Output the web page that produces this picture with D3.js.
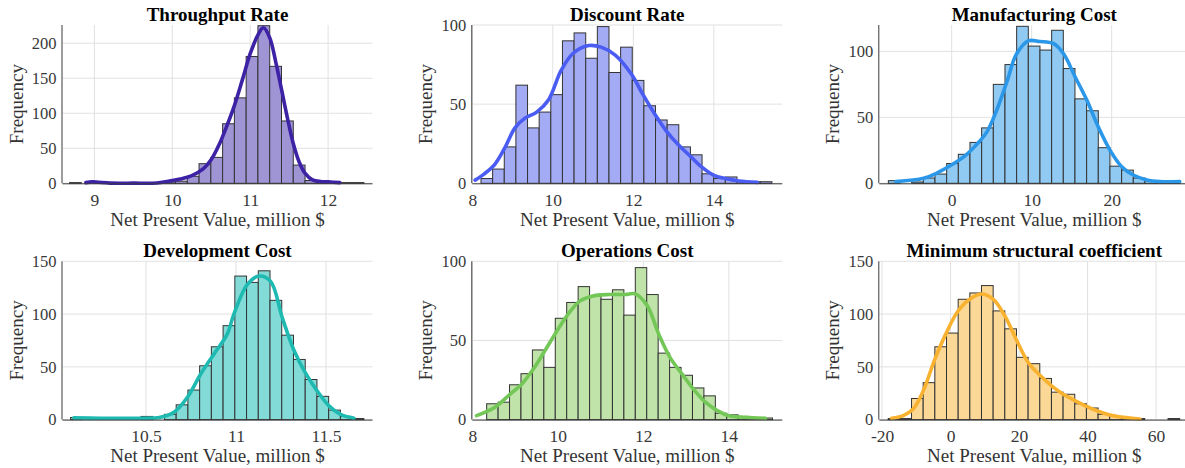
<!DOCTYPE html>
<html><head><meta charset="utf-8">
<script src="https://cdn.jsdelivr.net/npm/d3@7"></script>
<style>
body{margin:0;background:#fff;}
svg{display:block;}
text{font-family:"Liberation Serif","Times New Roman",serif;}
</style></head><body>
<svg id="chart" width="1185" height="468"></svg>
<script>
// ---------------- DATA ----------------
const panelTitles = ["Throughput Rate","Discount Rate","Manufacturing Cost","Development Cost","Operations Cost","Minimum structural coefficient"];
const xAxisLabel = "Net Present Value, million $";
const yAxisLabel = "Frequency";

// histogram bins: first edge, bin width, counts (25 bins each)
const binStarts = [8.68, 8.216, -7.92, 10.081, 8.336, -18.2];
const binWidths = [0.1512, 0.289, 1.458, 0.06516, 0.2674, 3.404];
const countsThroughput    = [1,0,0,0,0,0,0,0,2,3,10,28,37,85,122,181,225,167,89,26,4,1,0,1,1];
const countsDiscount      = [3,9,23,62,35,45,56,90,95,79,99,70,86,65,49,40,37,23,18,6,3,4,1,1,1];
const countsManufacturing = [2,0,1,4,7,15,22,31,42,75,90,119,104,101,116,87,64,55,27,13,10,4,2,2,2];
const countsDevelopment   = [2,0,0,0,0,0,3,0,5,14,28,51,69,89,136,130,141,113,80,57,38,22,9,3,1];
const countsOperations    = [10,11,22,29,44,33,64,74,84,78,76,82,66,96,79,42,33,28,20,15,4,3,2,1,1];
const countsStructural    = [1,1,20,35,69,82,114,120,127,103,86,59,53,39,26,24,15,11,5,3,1,1,0,0,1];

// density curves (scaled to counts)
const kdeXThroughput = [8.89,8.97,9.05,9.2,9.5,9.8,9.95,10.1,10.25,10.4,10.5,10.6,10.7,10.8,10.9,11.0,11.1,11.17,11.25,11.33,11.4,11.48,11.55,11.63,11.7,11.8,11.9,12.0,12.15];
const kdeYThroughput = [1,2,1.5,0.3,0.2,0.5,3,6,11,21,34,55,82,112,148,185,212,222,208,172,135,92,58,30,15,5,2.5,2,1];
const kdeXDiscount = [8.07,8.3,8.56,8.8,9.06,9.3,9.6,9.9,10.2,10.5,10.89,11.2,11.55,11.95,12.24,12.55,12.82,13.13,13.42,13.71,14.0,14.29,14.62,15.08];
const kdeYDiscount = [2,6,12,22,35,41,45,53,71,82,87,86,81,69,56,43,33,24,17,10,5,3,1.5,0.6];
const kdeXManufacturing = [-6.96,-3.5,-1.9,0,1.5,2.9,4.4,5.6,6.9,8.1,9.6,11.0,12.7,14.0,15.4,16.9,18.3,19.8,21.25,22.7,24.4,26.0,28.5];
const kdeYManufacturing = [1.3,3.8,7.6,14,20,28,39,55,77,98,108,107.5,106,98,81,63,43,25,12.6,6.3,2.5,1.3,1.3];
const kdeXDevelopment = [10.099,10.247,10.432,10.58,10.655,10.729,10.803,10.877,10.951,10.988,11.062,11.127,11.192,11.256,11.321,11.386,11.451,11.516,11.58,11.655];
const kdeYDevelopment = [1.6,1.3,1.3,2.2,7,21,43,62,81,100,128,136,131,97,66,44,27,13,5,1.3];
const kdeXOperations = [8.1,8.53,8.88,9.16,9.43,9.7,9.98,10.25,10.52,10.8,11.19,11.58,11.81,12.09,12.36,12.63,12.9,13.18,13.45,13.73,14.0,14.39,14.86];
const kdeYOperations = [2.5,7.8,16,22.5,32,43.6,56,67,75,78,79,79,79.4,72,54,39,29,19,11,5.7,2.5,1.5,0.8];
const kdeXStructural = [-17.2,-13.8,-10.9,-8.0,-4.6,-1.4,2.0,5.6,9.0,12.5,15.9,19.3,22.7,26.1,29.5,32.9,36.3,39.7,43.1,46.5,50.4,55.3];
const kdeYStructural = [1.3,3.8,10,27,57,81,102,114,119,114,98,75,54,42,32,24,18,12.6,7.9,4.4,2.2,0.6];

// axis limits and ticks
const xLimits = [[8.59,12.57],[8,15.7],[-9.05,29.7],[10.036,11.758],[8,15.25],[-20.8,69.7]];
const yLimits = [226,100,120,150,100,150];
const xTickValues = [[9,10,11,12],[8,10,12,14],[0,10,20],[10.5,11,11.5],[8,10,12,14],[-20,0,20,40,60]];
const yTickValues = [[0,50,100,150,200],[0,50,100],[0,50,100],[0,50,100,150],[0,50,100],[0,50,100,150]];

// ---------------- STYLE / LAYOUT ----------------
const barFills  = ["#9f95d5","#a3abf5","#90c9f1","#82dbd6","#bfe3a8","#fbd896"];
const lineCols  = ["#3d22a6","#4a5cf2","#2b97e8","#1ebab1","#73c757","#f8b22f"];
const colLeft = [62.5, 472.3, 879.3];
const rowTop = [25, 261.3];
const plotW = 310, plotH = 158.3;

const allCounts = [countsThroughput,countsDiscount,countsManufacturing,countsDevelopment,countsOperations,countsStructural];
const allKdeX = [kdeXThroughput,kdeXDiscount,kdeXManufacturing,kdeXDevelopment,kdeXOperations,kdeXStructural];
const allKdeY = [kdeYThroughput,kdeYDiscount,kdeYManufacturing,kdeYDevelopment,kdeYOperations,kdeYStructural];

const fmt = d => String(d);   // plain hyphen for negatives, as in the reference
const svg = d3.select("#chart");

panelTitles.forEach((title, p) => {
  const left = colLeft[p % 3], top = rowTop[Math.floor(p / 3)];
  const g = svg.append("g").attr("transform", `translate(${left},${top})`);
  const x = d3.scaleLinear().domain(xLimits[p]).range([0, plotW]);
  const y = d3.scaleLinear().domain([0, yLimits[p]]).range([plotH, 0]);

  // grid
  g.append("g").selectAll("line").data(xTickValues[p]).join("line")
    .attr("x1", d => x(d)).attr("x2", d => x(d)).attr("y1", 0).attr("y2", plotH)
    .attr("stroke", "#e1e1e1").attr("stroke-width", 1);
  g.append("g").selectAll("line").data(yTickValues[p]).join("line")
    .attr("x1", 0).attr("x2", plotW).attr("y1", d => y(d)).attr("y2", d => y(d))
    .attr("stroke", "#e1e1e1").attr("stroke-width", 1);

  // bars
  const bins = allCounts[p].map((c, i) => ({
    x0: binStarts[p] + i * binWidths[p],
    x1: binStarts[p] + (i + 1) * binWidths[p],
    c
  }));
  g.append("g").selectAll("rect").data(bins).join("rect")
    .attr("x", d => x(d.x0)).attr("width", d => x(d.x1) - x(d.x0))
    .attr("y", d => y(d.c)).attr("height", d => y(0) - y(d.c))
    .attr("fill", barFills[p]).attr("stroke", "#333").attr("stroke-width", 1);

  // density curve
  const pts = allKdeX[p].map((v, i) => [v, allKdeY[p][i]]);
  g.append("path").datum(pts)
    .attr("d", d3.line().x(d => x(d[0])).y(d => y(d[1])).curve(d3.curveCatmullRom.alpha(0.5)))
    .attr("fill", "none").attr("stroke", lineCols[p]).attr("stroke-width", 3.6)
    .attr("stroke-linecap", "round").attr("stroke-linejoin", "round");

  // axes
  const xAxis = d3.axisBottom(x).tickValues(xTickValues[p]).tickSize(0).tickPadding(0).tickFormat(fmt);
  const gx = g.append("g").attr("transform", `translate(0,${plotH})`).call(xAxis);
  gx.select(".domain").attr("stroke", "#3a3a3a").attr("stroke-width", 1).attr("d", `M0,0.5H${plotW}`);
  gx.selectAll("text").attr("y", 22.5).attr("dy", 0).attr("fill", "#383838").attr("font-size", 17.5);

  const yAxis = d3.axisLeft(y).tickValues(yTickValues[p]).tickSize(0).tickPadding(6).tickFormat(fmt);
  const gy = g.append("g").call(yAxis);
  gy.select(".domain").attr("stroke", "#3a3a3a").attr("stroke-width", 1).attr("d", `M-0.5,0V${plotH}`);
  gy.selectAll("text").attr("fill", "#383838").attr("font-size", 16.5);

  // labels
  g.append("text").attr("x", plotW / 2).attr("y", plotH + 42.5).attr("text-anchor", "middle")
    .attr("font-size", 19).attr("fill", "#333").text(xAxisLabel);
  g.append("text").attr("transform", `translate(-40,${plotH / 2}) rotate(-90)`).attr("text-anchor", "middle")
    .attr("font-size", 19).attr("fill", "#333").text(yAxisLabel);
  g.append("text").attr("x", plotW / 2).attr("y", -4.5).attr("text-anchor", "middle")
    .attr("font-size", 19).attr("font-weight", "bold").attr("fill", "#000").text(title);
});
</script>
</body></html>
